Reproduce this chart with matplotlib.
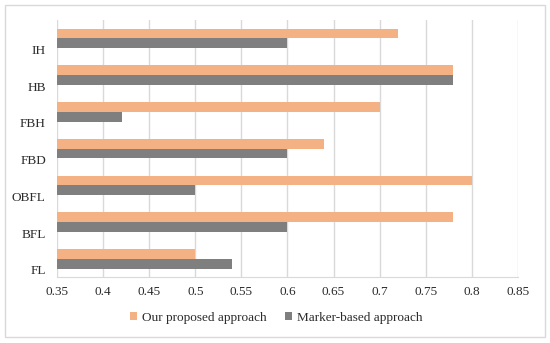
import matplotlib.pyplot as plt
import matplotlib.transforms as mtransforms
import numpy as np
from matplotlib.patches import Rectangle

categories = ["FL", "BFL", "OBFL", "FBD", "FBH", "HB", "IH"]
proposed = [0.50, 0.78, 0.80, 0.64, 0.70, 0.78, 0.72]
marker_based = [0.54, 0.60, 0.50, 0.60, 0.42, 0.78, 0.60]
xticks = [0.35, 0.4, 0.45, 0.5, 0.55, 0.6, 0.65, 0.7, 0.75, 0.8, 0.85]
xtick_labels = ["0.35", "0.4", "0.45", "0.5", "0.55", "0.6", "0.65", "0.7", "0.75", "0.8", "0.85"]

plt.rcParams['font.family'] = ['Liberation Serif', 'DejaVu Serif']

fig = plt.figure(figsize=(5.5, 3.43), dpi=100)
ax = fig.add_axes([0.1036, 0.192, 0.838, 0.750])

y = np.arange(len(categories))
h = 0.265
ax.barh(y - h / 2, marker_based, height=h, color='#7f7f7f', label='Marker-based approach', zorder=3)
ax.barh(y + h / 2, proposed, height=h, color='#f4b183', label='Our proposed approach', zorder=3)

ax.set_xlim(0.35, 0.85)
ax.set_ylim(-0.5, len(categories) - 0.5)
ax.set_xticks(xticks)
ax.set_xticklabels(xtick_labels, fontsize=9.5, color='#2b2b2b')
ax.set_yticks(y)
ax.set_yticklabels(categories, fontsize=9.5, color='#2b2b2b')
ax.tick_params(length=0)
ax.tick_params(axis='x', pad=6.5)
ax.tick_params(axis='y', pad=8)
# category labels sit a little below the bar pair in the original
shift = mtransforms.ScaledTranslation(0, -11 / 100, fig.dpi_scale_trans)
for lab in ax.get_yticklabels():
    lab.set_transform(lab.get_transform() + shift)
ax.xaxis.grid(True, color='#d9d9d9', linewidth=1, zorder=0)
for s in ['top', 'right', 'left']:
    ax.spines[s].set_visible(False)
ax.spines['bottom'].set_color('#d9d9d9')

handles, labels = ax.get_legend_handles_labels()
fig.legend(handles[::-1], labels[::-1], loc='center', bbox_to_anchor=(276 / 550, 1 - 318 / 343),
           ncol=2, frameon=False, fontsize=9.5, handlelength=0.55, handleheight=0.55,
           handletextpad=0.35, columnspacing=1.4, labelcolor='#2b2b2b')

fig.patches.append(Rectangle((0.009, 0.017), 0.982, 0.968, transform=fig.transFigure,
                             fill=False, edgecolor='#d9d9d9', linewidth=1))

plt.savefig('out.png', dpi=100)
